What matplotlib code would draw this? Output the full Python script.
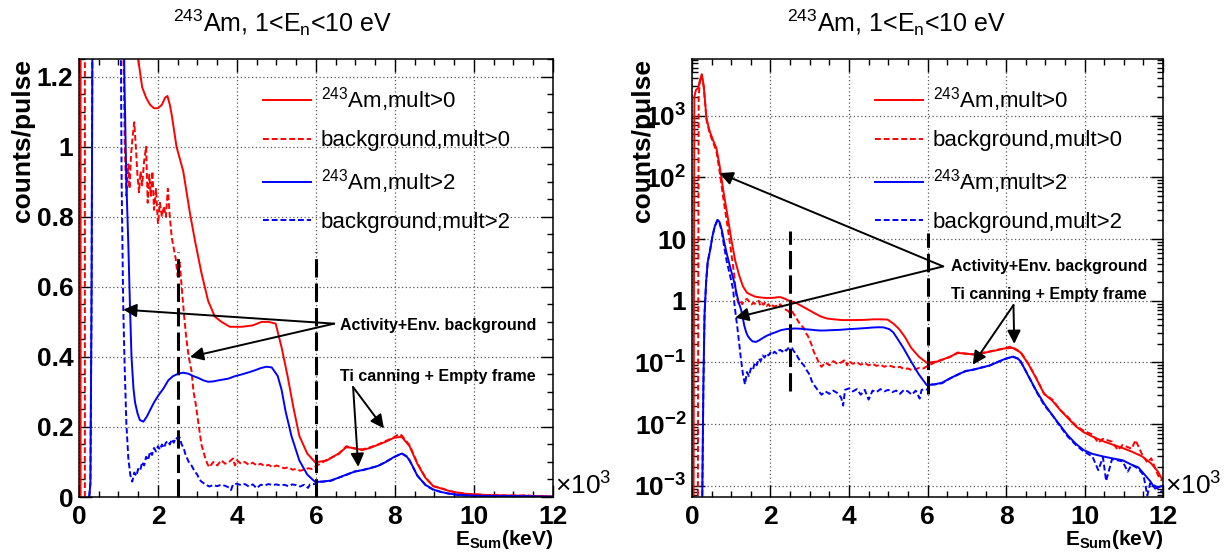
import numpy as np
import matplotlib
matplotlib.use("Agg")
import matplotlib.pyplot as plt
from matplotlib.ticker import MultipleLocator, FuncFormatter, LogLocator, NullFormatter

plt.rcParams['font.family'] = ['Liberation Sans', 'DejaVu Sans']
plt.rcParams['mathtext.fontset'] = 'custom'
plt.rcParams['mathtext.rm'] = 'Liberation Sans'
plt.rcParams['mathtext.it'] = 'Liberation Sans:italic'
plt.rcParams['mathtext.bf'] = 'Liberation Sans:bold'

# ---- data (E_sum in keV/1000, counts/pulse) ----
e_am0 = [0.04, 0.06, 0.10, 0.16, 0.20, 0.25, 0.30, 0.37, 0.45, 0.55, 0.62, 0.70, 0.80, 0.90,
         1.00, 1.10, 1.20, 1.30, 1.40, 1.50, 1.60, 1.70, 1.80, 1.90, 2.00, 2.10, 2.18, 2.24,
         2.30, 2.35, 2.47, 2.64, 2.81, 2.94, 3.10, 3.27, 3.44, 3.61, 3.82, 4.12, 4.40, 4.62,
         4.80, 4.98, 5.13, 5.28, 5.43, 5.58, 5.78, 5.98, 6.27, 6.57, 6.77, 6.97, 7.17, 7.37,
         7.57, 7.77, 7.97, 8.17, 8.37, 8.57, 8.77, 8.97, 9.18, 9.38, 9.58, 9.78, 9.98, 10.2,
         10.47, 10.7, 10.97, 11.2, 11.47, 11.7, 11.87, 11.97]
am0 = [0.0005, 2000, 2600, 2800, 3700, 4700, 3000, 900, 560, 380, 300, 160, 60, 25,
       10, 4.5, 2.6, 1.7, 1.35, 1.25, 1.17, 1.14, 1.12, 1.11, 1.11, 1.12, 1.14, 1.145,
       1.12, 1.09, 1.00, 0.93, 0.81, 0.73, 0.64, 0.56, 0.515, 0.50, 0.486, 0.486, 0.49, 0.50,
       0.50, 0.495, 0.427, 0.346, 0.255, 0.174, 0.124, 0.099, 0.104, 0.124, 0.142, 0.140, 0.134, 0.140,
       0.149, 0.158, 0.169, 0.172, 0.145, 0.094, 0.055, 0.031, 0.024, 0.017, 0.0125, 0.0092, 0.0074, 0.0063,
       0.0053, 0.0047, 0.0041, 0.0036, 0.0030, 0.0023, 0.0017, 0.0013]

e_bg0 = [0.15, 0.17, 0.20, 0.25, 0.30, 0.37, 0.45, 0.55, 0.62, 0.70, 0.80, 0.90, 1.00, 1.08,
         1.12, 1.16, 1.20, 1.25, 1.28, 1.32, 1.36, 1.40, 1.44, 1.48, 1.52, 1.56, 1.60, 1.65,
         1.70, 1.74, 1.78, 1.82, 1.86, 1.90, 1.95, 2.00, 2.05, 2.10, 2.15, 2.20, 2.25, 2.30,
         2.35, 2.40, 2.45, 2.50, 2.55, 2.60, 2.66, 2.72, 2.78, 2.85, 2.90, 2.95, 3.00, 3.05,
         3.10, 3.15, 3.20, 3.25, 3.30, 3.40, 3.50, 3.60, 3.70, 3.80, 3.90, 3.95, 4.00, 4.10,
         4.20, 4.30, 4.40, 4.50, 4.60, 4.70, 4.80, 4.90, 5.00, 5.10, 5.20, 5.30, 5.40, 5.50,
         5.60, 5.70, 5.80, 5.90, 6.00, 6.27, 6.57, 6.77, 6.97, 7.17, 7.37, 7.57, 7.77, 7.97,
         8.10, 8.17, 8.37, 8.57, 8.77, 8.97, 9.18, 9.38, 9.58, 9.78, 9.98, 10.2, 10.35, 10.47,
         10.7, 10.85, 10.97, 11.2, 11.3, 11.47, 11.6, 11.7, 11.87, 11.97]
bg0 = [0.0005, 2000, 3500, 4500, 2900, 850, 520, 350, 270, 130, 45, 17, 6, 2.5,
       1.3, 1.0, 0.86, 0.95, 0.88, 0.98, 1.03, 1.07, 1.0, 0.92, 0.87, 0.93, 0.89, 0.96,
       1.0, 0.84, 0.92, 0.86, 0.93, 0.82, 0.88, 0.78, 0.84, 0.80, 0.83, 0.80, 0.88, 0.80,
       0.74, 0.71, 0.68, 0.63, 0.67, 0.60, 0.52, 0.45, 0.40, 0.36, 0.30, 0.27, 0.23, 0.19,
       0.15, 0.13, 0.11, 0.095, 0.085, 0.10, 0.09, 0.105, 0.095, 0.10, 0.11, 0.09, 0.105, 0.095,
       0.10, 0.092, 0.098, 0.09, 0.095, 0.088, 0.092, 0.085, 0.09, 0.086, 0.082, 0.085, 0.078, 0.08,
       0.075, 0.078, 0.082, 0.08, 0.088, 0.106, 0.122, 0.145, 0.138, 0.136, 0.142, 0.15, 0.16, 0.17,
       0.18, 0.176, 0.148, 0.096, 0.056, 0.031, 0.025, 0.017, 0.013, 0.0095, 0.0078, 0.0068, 0.0050, 0.0058,
       0.0052, 0.0038, 0.0046, 0.0040, 0.0055, 0.0032, 0.0024, 0.0028, 0.0015, 0.0012]

e_am2 = [0.26, 0.29, 0.32, 0.36, 0.40, 0.46, 0.52, 0.58, 0.65, 0.70, 0.76, 0.82, 0.88, 0.95,
         1.00, 1.05, 1.10, 1.15, 1.20, 1.25, 1.29, 1.33, 1.38, 1.42, 1.48, 1.54, 1.63, 1.72,
         1.80, 1.90, 2.01, 2.14, 2.26, 2.38, 2.51, 2.64, 2.77, 2.90, 3.02, 3.15, 3.27, 3.40,
         3.53, 3.78, 3.95, 4.12, 4.30, 4.46, 4.60, 4.75, 4.88, 5.03, 5.13, 5.23, 5.38, 5.58,
         5.78, 5.98, 6.17, 6.37, 6.57, 6.77, 6.97, 7.17, 7.37, 7.57, 7.77, 7.97, 8.17, 8.30,
         8.37, 8.57, 8.78, 8.98, 9.18, 9.38, 9.58, 9.78, 9.98, 10.2, 10.47, 10.7, 10.97, 11.2,
         11.37, 11.5, 11.67, 11.8, 11.97]
am2 = [0.0005, 0.04, 0.6, 2.0, 4.2, 6.5, 11, 16, 20.5, 19, 14, 9, 6, 4.0,
       3.0, 2.3, 1.7, 1.2, 0.9, 0.72, 0.55, 0.40, 0.31, 0.27, 0.24, 0.22, 0.215, 0.23,
       0.248, 0.27, 0.29, 0.31, 0.333, 0.345, 0.352, 0.355, 0.352, 0.345, 0.34, 0.333, 0.329, 0.33,
       0.333, 0.338, 0.345, 0.35, 0.356, 0.362, 0.368, 0.372, 0.37, 0.346, 0.306, 0.245, 0.174, 0.104,
       0.064, 0.043, 0.044, 0.047, 0.055, 0.064, 0.072, 0.077, 0.082, 0.089, 0.10, 0.114, 0.124, 0.115,
       0.105, 0.060, 0.034, 0.021, 0.014, 0.0095, 0.0065, 0.0048, 0.0038, 0.0033, 0.0030, 0.0028, 0.0026, 0.0022,
       0.0020, 0.0016, 0.0012, 0.0009, 0.0010]

e_bg2 = [0.26, 0.29, 0.32, 0.36, 0.40, 0.46, 0.52, 0.58, 0.65, 0.70, 0.76, 0.82, 0.88, 0.95,
         1.00, 1.05, 1.08, 1.12, 1.15, 1.20, 1.25, 1.30, 1.35, 1.40, 1.45, 1.50, 1.55, 1.60,
         1.65, 1.70, 1.75, 1.80, 1.85, 1.90, 1.95, 2.00, 2.05, 2.10, 2.15, 2.20, 2.25, 2.30,
         2.35, 2.40, 2.45, 2.50, 2.55, 2.60, 2.65, 2.70, 2.78, 2.85, 2.92, 3.00, 3.05, 3.10,
         3.20, 3.30, 3.40, 3.50, 3.60, 3.70, 3.80, 3.85, 3.90, 4.00, 4.10, 4.20, 4.30, 4.40,
         4.50, 4.60, 4.70, 4.80, 4.90, 5.00, 5.10, 5.20, 5.30, 5.40, 5.50, 5.60, 5.70, 5.80,
         5.85, 5.95, 6.00, 6.05, 6.17, 6.37, 6.57, 6.77, 6.97, 7.17, 7.37, 7.57, 7.77, 7.97,
         8.17, 8.30, 8.37, 8.57, 8.78, 8.98, 9.18, 9.38, 9.58, 9.78, 9.98, 10.2, 10.35, 10.47,
         10.55, 10.7, 10.97, 11.1, 11.2, 11.37, 11.5, 11.6, 11.67, 11.8, 11.97]
bg2 = [0.0005, 0.04, 0.6, 2.0, 4.2, 6.5, 11, 16, 20, 18.5, 13, 7.5, 4.5, 2.9,
       2.1, 1.5, 0.9, 0.55, 0.40, 0.21, 0.11, 0.063, 0.044, 0.07, 0.06, 0.08, 0.075, 0.10,
       0.09, 0.115, 0.105, 0.13, 0.12, 0.14, 0.13, 0.145, 0.135, 0.15, 0.14, 0.155, 0.16, 0.15,
       0.165, 0.155, 0.17, 0.165, 0.17, 0.15, 0.14, 0.12, 0.10, 0.09, 0.075, 0.063, 0.05, 0.044,
       0.036, 0.03, 0.034, 0.031, 0.035, 0.032, 0.027, 0.020, 0.036, 0.038, 0.034, 0.037, 0.03, 0.036,
       0.025, 0.035, 0.033, 0.037, 0.034, 0.036, 0.033, 0.035, 0.031, 0.036, 0.034, 0.03, 0.035, 0.026,
       0.036, 0.037, 0.036, 0.044, 0.044, 0.046, 0.055, 0.063, 0.073, 0.076, 0.083, 0.088, 0.101, 0.113,
       0.125, 0.116, 0.104, 0.061, 0.033, 0.020, 0.014, 0.0092, 0.0062, 0.0046, 0.0036, 0.0030, 0.0018, 0.0029,
       0.0012, 0.0027, 0.0025, 0.0017, 0.0022, 0.0019, 0.0015, 0.0007, 0.0011, 0.0010, 0.0008]

labels = [r"$^{243}$Am,mult>0", "background,mult>0", r"$^{243}$Am,mult>2", "background,mult>2"]
title = r"$^{243}$Am, 1<E$_{\mathrm{n}}$<10 eV"
cut_lines = [2.5, 6.0]

RED, BLUE = '#ff0000', '#0000ff'
DASH = (0, (3, 1.5))
LONGDASH = (0, (6, 2))

fig = plt.figure(figsize=(12.28, 5.57), dpi=100)
ax_lin = fig.add_axes([0.0643, 0.1077, 0.386, 0.786])
ax_log = fig.add_axes([0.5635, 0.1077, 0.3836, 0.786])


def draw_curves(ax):
    h = []
    h += ax.plot(e_am0, am0, color=RED, lw=1.4, label=labels[0])
    h += ax.plot(e_bg0, bg0, color=RED, lw=1.4, ls=DASH, label=labels[1])
    h += ax.plot(e_am2, am2, color=BLUE, lw=1.4, label=labels[2])
    h += ax.plot(e_bg2, bg2, color=BLUE, lw=1.4, ls=DASH, label=labels[3])
    return h


def style_axes(ax, tx, ylab_x):
    ax.set_xlim(0, 12)
    ax.xaxis.set_major_locator(MultipleLocator(2))
    ax.xaxis.set_minor_locator(MultipleLocator(0.5))
    ax.xaxis.set_major_formatter(FuncFormatter(lambda v, p: "%d" % v))
    ax.tick_params(which='both', direction='in', top=True, right=True, width=1.0)
    ax.tick_params(which='major', length=9, labelsize=19, pad=6)
    ax.tick_params(which='minor', length=4.5)
    ax.tick_params(axis='y', which='major', pad=4)
    for lab in ax.get_xticklabels() + ax.get_yticklabels():
        lab.set_fontweight('bold')
    for s in ax.spines.values():
        s.set_linewidth(1.1)
    ax.grid(True, which='major', color='0.35', ls=(0, (1, 2)), lw=0.9)
    ax.text(tx, 1.084, title, transform=ax.transAxes, ha='center', va='center', fontsize=18)
    ax.text(ylab_x, 1.0, "counts/pulse", transform=ax.transAxes, rotation=90,
            ha='center', va='top', fontsize=19, fontweight='bold')
    ax.text(1.0, -0.098, r"E$_{\mathbf{Sum}}$(keV)", transform=ax.transAxes,
            ha='right', va='center', fontsize=15, fontweight='bold')
    ax.text(1.005, 0.025, r"×10$^{3}$", transform=ax.transAxes,
            ha='left', va='center', fontsize=19)


def legend(ax, handles):
    ax.legend(handles=handles, loc='upper left', bbox_to_anchor=(0.388, 0.94),
              frameon=False, fontsize=16, handlelength=2.15, handletextpad=0.45,
              labelspacing=0.72, borderpad=0, borderaxespad=0)


def arrow(ax, start, end):
    ax.annotate("", xy=end, xytext=start,
                arrowprops=dict(arrowstyle='-|>', color='black', lw=1.4,
                                mutation_scale=20, shrinkA=0, shrinkB=0))


# ---- linear panel ----
h = draw_curves(ax_lin)
ax_lin.set_ylim(0, 1.25)
ax_lin.yaxis.set_major_locator(MultipleLocator(0.2))
ax_lin.yaxis.set_minor_locator(MultipleLocator(0.05))
ax_lin.yaxis.set_major_formatter(FuncFormatter(lambda v, p: "%g" % round(v, 2)))
ax_lin.vlines(cut_lines, 0, 0.70, colors='black', lw=2.2, linestyles=[LONGDASH])
style_axes(ax_lin, 0.43, -0.118)
legend(ax_lin, h)
ax_lin.text(6.62, 0.49, "Activity+Env. background", fontsize=11.5, fontweight='bold', va='center')
arrow(ax_lin, (6.46, 0.495), (1.12, 0.535))
arrow(ax_lin, (6.46, 0.495), (2.81, 0.40))
ax_lin.text(6.61, 0.343, "Ti canning + Empty frame", fontsize=11.5, fontweight='bold', va='center')
arrow(ax_lin, (6.94, 0.314), (7.07, 0.086))
arrow(ax_lin, (6.94, 0.314), (7.72, 0.196))

# ---- log panel ----
h = draw_curves(ax_log)
ax_log.set_yscale('log')
ax_log.set_ylim(6.6e-4, 8.2e3)
ax_log.yaxis.set_major_locator(LogLocator(base=10, numticks=20))
ax_log.yaxis.set_minor_locator(LogLocator(base=10, subs=np.arange(2, 10), numticks=20))
ax_log.yaxis.set_minor_formatter(NullFormatter())


def log_fmt(v, p):
    k = int(round(np.log10(v)))
    if k == 0:
        return "1"
    if k == 1:
        return "10"
    return r"$\mathbf{10^{%d}}$" % k


ax_log.yaxis.set_major_formatter(FuncFormatter(log_fmt))
ax_log.vlines(cut_lines, [0.034, 0.031], [13.7, 12.5], colors='black', lw=2.2, linestyles=[LONGDASH])
style_axes(ax_log, 0.435, -0.105)
legend(ax_log, h)
ax_log.text(6.61, 3.62, "Activity+Env. background", fontsize=11.5, fontweight='bold', va='center')
arrow(ax_log, (6.40, 3.6), (0.70, 117))
arrow(ax_log, (6.40, 3.6), (1.10, 0.53))
ax_log.text(6.61, 1.27, "Ti canning + Empty frame", fontsize=11.5, fontweight='bold', va='center')
arrow(ax_log, (8.19, 0.85), (7.15, 0.092))
arrow(ax_log, (8.19, 0.85), (8.21, 0.20))

fig.savefig("out.png", dpi=100)
